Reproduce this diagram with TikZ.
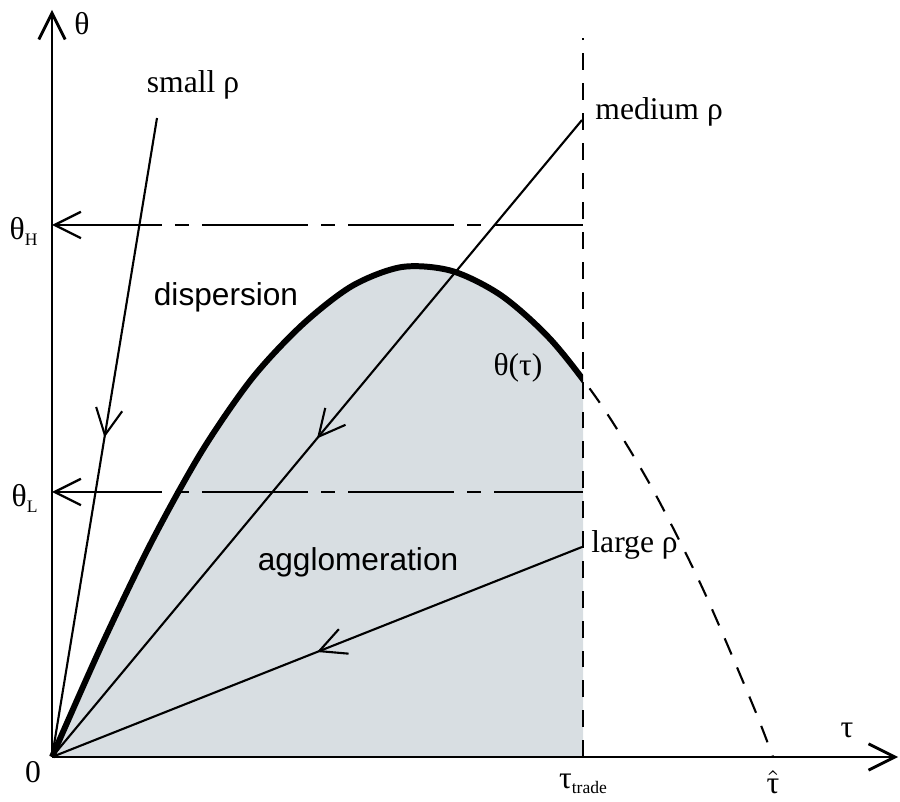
\documentclass[tikz,border=0pt]{standalone}
\usepackage{fontspec}
\setmainfont{Liberation Serif}
\newfontfamily\sansfont{Liberation Sans}
\usetikzlibrary{arrows.meta,decorations.markings}
\definecolor{areagray}{RGB}{216,222,226}
\newcommand\lowsub[1]{\raisebox{-0.35ex}{\fontsize{5}{6}\selectfont #1}}
\newcommand\thetacurve{plot[smooth] coordinates {(0,0) (0.5,1.125) (1,2.16) (1.5,3.06) (2,3.785) (2.5,4.32) (3,4.71) (3.5,4.90) (4,4.86) (4.5,4.61) (5,4.16) (5.5,3.51) (6,2.69) (6.5,1.70) (7,0.54) (7.21,0)}}
\tikzset{
 axis/.style={line width=0.8pt},
 curve/.style={line width=1.7pt},
 dashcurve/.style={line width=0.6pt, dash pattern=on 5pt off 4pt},
 tradeline/.style={line width=0.85pt, dash pattern=on 4.8pt off 3.7pt},
 levelline/.style={line width=0.65pt, dash pattern=on 30.2pt off 3.7pt on 4pt off 3.7pt},
 rholine/.style={line width=0.6pt, postaction={decorate},
  decoration={markings, mark=at position 0.5 with {\arrow{>}}}}
}
\begin{document}
\begin{tikzpicture}[>={Straight Barb[length=7.5pt,width=7.5pt]}, font=\fontsize{9}{11}\selectfont]
 \useasboundingbox (-0.52,-0.45) rectangle (8.48,7.57);
 % points
 \coordinate (O) at (0,0);
 \coordinate (ytop) at (0,7.47);
 \coordinate (xend) at (8.46,0);
 \coordinate (trade) at (5.31,0);
 \coordinate (tradetop) at (5.31,7.19);
 \coordinate (hiL) at (0,5.32);
 \coordinate (hiR) at (5.31,5.32);
 \coordinate (loL) at (0,2.65);
 \coordinate (loR) at (5.31,2.65);
 \coordinate (smallend) at (1.05,6.39);
 \coordinate (medend) at (5.30,6.37);
 \coordinate (largeend) at (5.30,2.10);
 % agglomeration area and theta(tau)
 \begin{scope}
  \clip (-0.5,-0.5) rectangle (5.31,6);
  \fill[areagray] \thetacurve -- cycle;
  \draw[curve] \thetacurve;
 \end{scope}
 \begin{scope}
  \clip (5.31,-0.5) rectangle (8,6);
  \draw[dashcurve] \thetacurve;
 \end{scope}
 \draw[tradeline] (trade) -- (tradetop);
 \draw[levelline,<-] (hiL) -- (hiR);
 \draw[levelline,<-] (loL) -- (loR);
 \draw[rholine] (smallend) -- (O);
 \draw[rholine] (medend) -- (O);
 \draw[rholine] (largeend) -- (O);
 \draw[axis,->] (O) -- (ytop);
 \draw[axis,->] (O) -- (xend);
 % labels
 \node (thlab) at (0.30,7.33) {θ};
 \node (thHlab) [anchor=base east] at (-0.02,5.17) {θ\lowsub{H}};
 \node (thLlab) [anchor=base east] at (-0.02,2.50) {θ\lowsub{L}};
 \node (zero) at (-0.19,-0.15) {0};
 \node (smalllab) at (1.41,6.72) {small ρ};
 \node (medlab) [anchor=west] at (5.31,6.45) {medium ρ};
 \node (largelab) [anchor=west] at (5.27,2.12) {large ρ};
 \node (curvelab) at (4.66,3.89) {θ(τ)};
 \node (displab) at (1.74,4.60) {\sansfont dispersion};
 \node (agglab) at (3.06,1.95) {\sansfont agglomeration};
 \node (taulab) at (7.95,0.27) {τ};
 \node (tradelab) at (5.31,-0.27) {τ\lowsub{trade}};
 \node (tauhat) at (7.21,-0.25) {$\hat{\mbox{τ}}$};
\end{tikzpicture}
\end{document}
